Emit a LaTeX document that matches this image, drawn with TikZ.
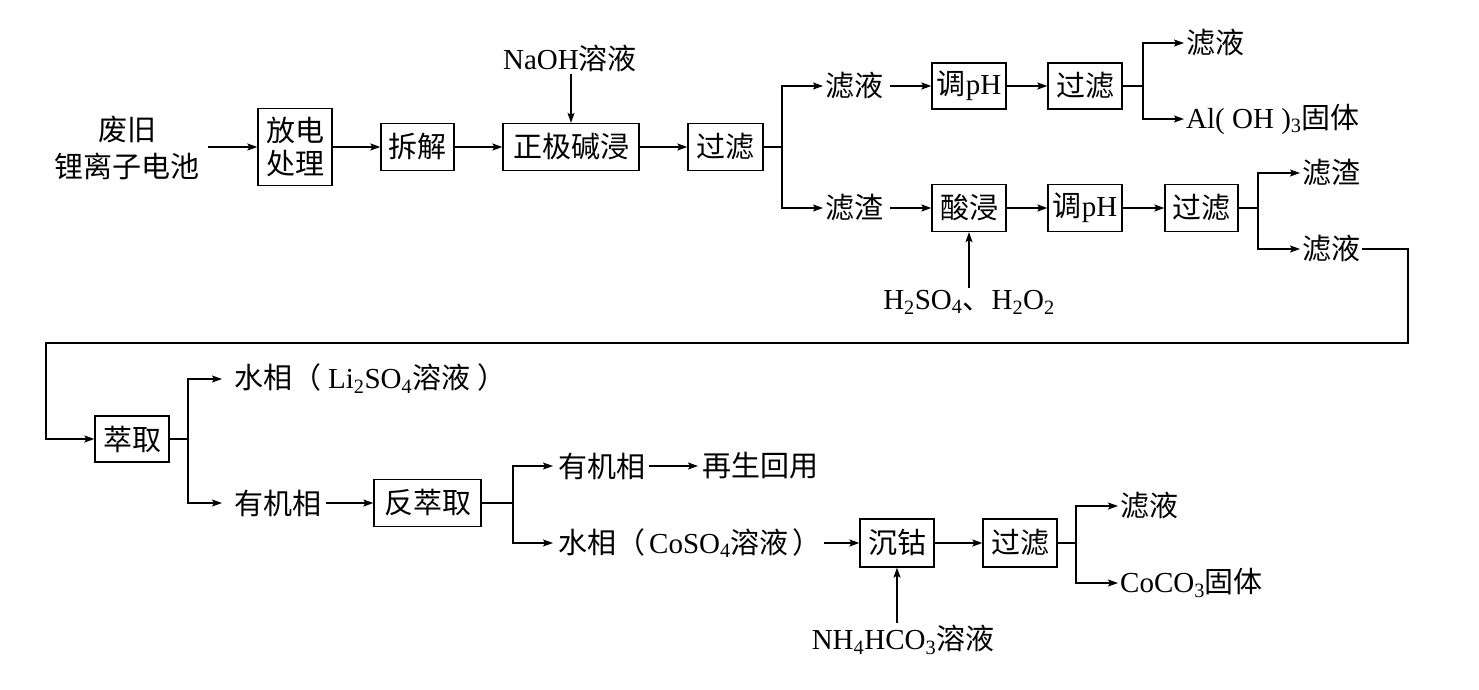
\documentclass[tikz,border=0pt]{standalone}
\usepackage{fontspec}
\setmainfont{Liberation Serif}
\newfontfamily\cjk{Noto Sans CJK SC}
\usetikzlibrary{arrows.meta}
\newcommand\zh[1]{{\cjk #1}}
\begin{document}
\begin{tikzpicture}[x=1pt,y=-1pt,
  every node/.style={font=\fontsize{29}{36}\selectfont, inner sep=2pt},
  box/.style={draw, line width=1.3pt, minimum width=74pt, minimum height=47pt, inner sep=0pt, align=center},
  ln/.style={line width=1.3pt},
  arr/.style={ln, -{Stealth[length=10pt,width=7pt,inset=2pt]}},
]
\fill[white] (0,0) rectangle (1479,690);
\useasboundingbox (0,0) rectangle (1479,690);

% row 1
\node[align=center, font=\fontsize{29}{37}\selectfont] (src) at (127,148) {\zh{废旧}\\\zh{锂离子电池}};
\node[box, minimum height=77pt] (fd) at (295,147) {\zh{放电}\\[-3pt]\zh{处理}};
\node[box, minimum width=73pt] (cj) at (417.5,147) {\zh{拆解}};
\node[box, minimum width=136pt] (zj) at (571,147) {\zh{正极碱浸}};
\node (naoh) at (570,58) {NaOH\zh{溶液}};
\node[box, minimum width=75pt] (gl1) at (725.5,147) {\zh{过滤}};
\coordinate (j1) at (782,147);
\node[anchor=west] (lv1) at (823,86) {\zh{滤液}};
\node[anchor=west] (lz1) at (823,208) {\zh{滤渣}};
\node[box, minimum height=46pt] (tp1) at (969,86) {\zh{调}pH};
\node[box, minimum height=46pt] (gl2) at (1085,86) {\zh{过滤}};
\coordinate (j2) at (1143,86);
\node[anchor=west] (lv2) at (1184,43) {\zh{滤液}};
\node[anchor=west] (al) at (1184,119) {Al( OH )\textsubscript{3}\zh{固体}};
\node[box] (sj) at (969,208) {\zh{酸浸}};
\node (h2) at (969,302) {H\textsubscript{2}SO\textsubscript{4}\zh{、}H\textsubscript{2}O\textsubscript{2}};
\node[box] (tp2) at (1085,208) {\zh{调}pH};
\node[box, minimum width=73pt] (gl3) at (1201.5,208) {\zh{过滤}};
\coordinate (j3) at (1258,208);
\node[anchor=west] (lz2) at (1300,173) {\zh{滤渣}};
\node[anchor=west] (lv3) at (1300,249) {\zh{滤液}};
\coordinate (r1) at (1408,249);
\coordinate (r2) at (1408,343);
\coordinate (r3) at (46,343);

% row 2
\node[box, minimum height=46pt] (cq) at (132,439) {\zh{萃取}};
\coordinate (j4) at (188,439);
\node[anchor=west] (sx1) at (232,379) {\zh{水相（}\hspace{7pt}Li\textsubscript{2}SO\textsubscript{4}\zh{溶液}\hspace{7pt}\zh{）}};
\node[anchor=west] (yj1) at (232,503) {\zh{有机相}};
\node[box, minimum width=107pt] (fcq) at (427.5,503) {\zh{反萃取}};
\coordinate (j5) at (513,503);
\node[anchor=west] (yj2) at (556,466) {\zh{有机相}};
\node[anchor=west] (zs) at (700,466) {\zh{再生回用}};
\node[anchor=west] (sx2) at (556,543) {\zh{水相（}\hspace{4pt}CoSO\textsubscript{4}\zh{溶液}\hspace{4pt}\zh{）}};
\node[box, minimum height=48pt] (cg) at (897,543) {\zh{沉钴}};
\node (nh) at (903,640) {NH\textsubscript{4}HCO\textsubscript{3}\zh{溶液}};
\node[box, minimum height=48pt] (gl4) at (1020,543) {\zh{过滤}};
\coordinate (j6) at (1076,543);
\node[anchor=west] (lv4) at (1118,506) {\zh{滤液}};
\node[anchor=west] (co) at (1118,583) {CoCO\textsubscript{3}\zh{固体}};

% connectors
\draw[arr] ([xshift=6pt]src.east |- fd.west) -- (fd.west);
\draw[arr] (fd.east) -- (cj.west);
\draw[arr] (cj.east) -- (zj.west);
\draw[arr] (zj.north |- naoh.south) -- (zj.north);
\draw[arr] (zj.east) -- (gl1.west);
\draw[ln] (gl1.east) -- (j1);
\draw[arr] (j1) |- (lv1.west);
\draw[arr] (j1) |- (lz1.west);
\draw[arr, shorten <=5pt] (lv1.east) -- (tp1.west);
\draw[arr] (tp1.east) -- (gl2.west);
\draw[ln] (gl2.east) -- (j2);
\draw[arr] (j2) |- (lv2.west);
\draw[arr] (j2) |- (al.west);
\draw[arr, shorten <=5pt] (lz1.east) -- (sj.west);
\draw[arr] (sj.south |- h2.north) -- (sj.south);
\draw[arr] (sj.east) -- (tp2.west);
\draw[arr] (tp2.east) -- (gl3.west);
\draw[ln] (gl3.east) -- (j3);
\draw[arr] (j3) |- (lz2.west);
\draw[arr] (j3) |- (lv3.west);
\draw[arr] (lv3.east) -- (r1) -- (r2) -- (r3) |- (cq.west);
\draw[ln] (cq.east) -- (j4);
\draw[arr, shorten >=10pt] (j4) |- (sx1.west);
\draw[arr, shorten >=10pt] (j4) |- (yj1.west);
\draw[arr, shorten <=3pt] (yj1.east) -- (fcq.west);
\draw[ln] (fcq.east) -- (j5);
\draw[arr, shorten >=3pt] (j5) |- (yj2.west);
\draw[arr, shorten >=3pt] (j5) |- (sx2.west);
\draw[arr, shorten <=2pt, shorten >=2pt] (yj2.east) -- (zs.west);
\draw[arr] (sx2.east) -- (cg.west);
\draw[arr] (cg.south |- nh.north) -- (cg.south);
\draw[arr] (cg.east) -- (gl4.west);
\draw[ln] (gl4.east) -- (j6);
\draw[arr] (j6) |- (lv4.west);
\draw[arr] (j6) |- (co.west);
\end{tikzpicture}
\end{document}
